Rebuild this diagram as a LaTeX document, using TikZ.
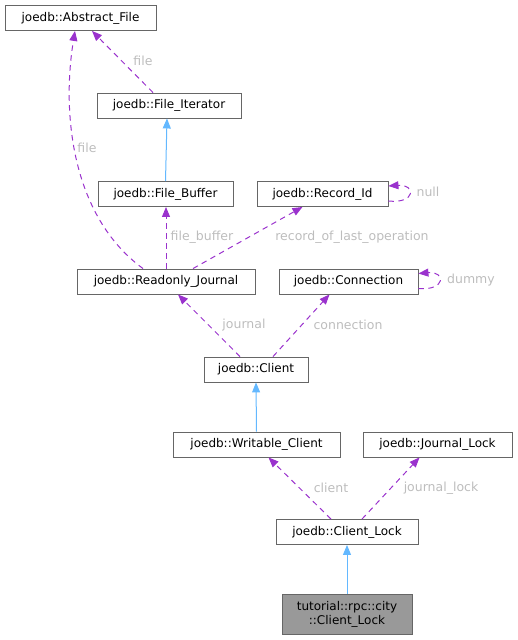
\documentclass[tikz,border=0pt]{standalone}
\usepackage{fontspec}
\setmainfont{DejaVu Sans}
\usetikzlibrary{arrows.meta,calc}
\definecolor{boxline}{HTML}{666666}
\definecolor{dep}{HTML}{9A32CD}
\definecolor{inh}{HTML}{63B8FF}
\definecolor{lbl}{HTML}{BDBDBD}
\definecolor{hl}{HTML}{999999}
\tikzset{
  cls/.style={draw=boxline, line width=0.9pt, fill=white, inner sep=0pt, minimum height=25pt, font=\fontsize{12}{14}\selectfont, text=black},
  depedge/.style={draw=dep, line width=1pt, dash pattern=on 5.5pt off 4.5pt, -{Triangle[length=10pt,width=8pt]}},
  inhedge/.style={draw=inh, line width=1pt, -{Triangle[length=10pt,width=8pt]}},
  elabel/.style={text=lbl, font=\fontsize{12.5}{14}\selectfont, inner sep=0pt}
}
\begin{document}
\begin{tikzpicture}[x=1pt,y=-1pt]
\useasboundingbox (0,0) rectangle (517,640);
\node[cls, minimum width=151pt] (AF) at (80.5,18) {joedb::Abstract\_File};
\node[cls, minimum width=144pt] (FI) at (169,105.5) {joedb::File\_Iterator};
\node[cls, minimum width=135pt] (FB) at (165.5,194) {joedb::File\_Buffer};
\node[cls, minimum width=131pt] (RI) at (322.5,194) {joedb::Record\_Id};
\node[cls, minimum width=178pt] (RJ) at (166,281.5) {joedb::Readonly\_Journal};
\node[cls, minimum width=139pt] (CN) at (348.5,281.5) {joedb::Connection};
\node[cls, minimum width=104pt] (CL) at (256,369.5) {joedb::Client};
\node[cls, minimum width=167pt] (WC) at (256.5,444.5) {joedb::Writable\_Client};
\node[cls, minimum width=149pt] (JL) at (437.5,444.5) {joedb::Journal\_Lock};
\node[cls, minimum width=142pt] (CK) at (347,532) {joedb::Client\_Lock};
\node[cls, minimum width=130pt, minimum height=40pt, fill=hl, align=center] (TU) at (347,614) {tutorial::rpc::city\\::Client\_Lock};

% File_Iterator -> Abstract_File
\draw[depedge] ($(FI.north)+(-16,0)$) -- ($(AF.south)+(11.5,0)$);
\node[elabel] (l1) at (143,61) {file};
% Readonly_Journal -> Abstract_File
\draw[depedge] ($(RJ.north)+(-23,0)$) .. controls (70,215) and (62,110) .. ($(AF.south)+(-5.5,0)$);
\node[elabel] (l2) at (87,148) {file};
% File_Buffer -> File_Iterator
\draw[inhedge] (FB.north) -- ($(FI.south)+(-2,0)$);
% Readonly_Journal -> File_Buffer
\draw[depedge] (RJ.north) -- ($(FB.south)+(0.5,0)$);
\node[elabel] (l3) at (202,237) {file\_buffer};
% Readonly_Journal -> Record_Id
\draw[depedge] ($(RJ.north)+(27,0)$) -- ($(RI.south)+(-20,0)$);
\node[elabel] (l4) at (352,237) {record\_of\_last\_operation};
% Record_Id self loop
\draw[depedge] ($(RI.east)+(0,7)$) .. controls (416,204) and (416,184) .. ($(RI.east)+(0,-8)$);
\node[elabel] (l5) at (428,192) {null};
% Connection self loop
\draw[depedge] ($(CN.east)+(0,7)$) .. controls (446,291) and (446,271) .. ($(CN.east)+(0,-8)$);
\node[elabel] (l6) at (471,280) {dummy};
% Client -> Readonly_Journal
\draw[depedge] ($(CL.north)+(-16,0)$) -- ($(RJ.south)+(12,0)$);
\node[elabel] (l7) at (244,325) {journal};
% Client -> Connection
\draw[depedge] ($(CL.north)+(17,0)$) -- ($(CN.south)+(-19,0)$);
\node[elabel] (l8) at (348,325) {connection};
% Writable_Client -> Client
\draw[inhedge] (WC.north) -- (CL.south);
% Client_Lock -> Writable_Client
\draw[depedge] ($(CK.north)+(-16,0)$) -- ($(WC.south)+(12,0)$);
\node[elabel] (l9) at (331,488) {client};
% Client_Lock -> Journal_Lock
\draw[depedge] ($(CK.north)+(15,0)$) -- ($(JL.south)+(-18,0)$);
\node[elabel] (l10) at (441,488) {journal\_lock};
% tutorial -> Client_Lock
\draw[inhedge] (TU.north) -- (CK.south);
\end{tikzpicture}
\end{document}
